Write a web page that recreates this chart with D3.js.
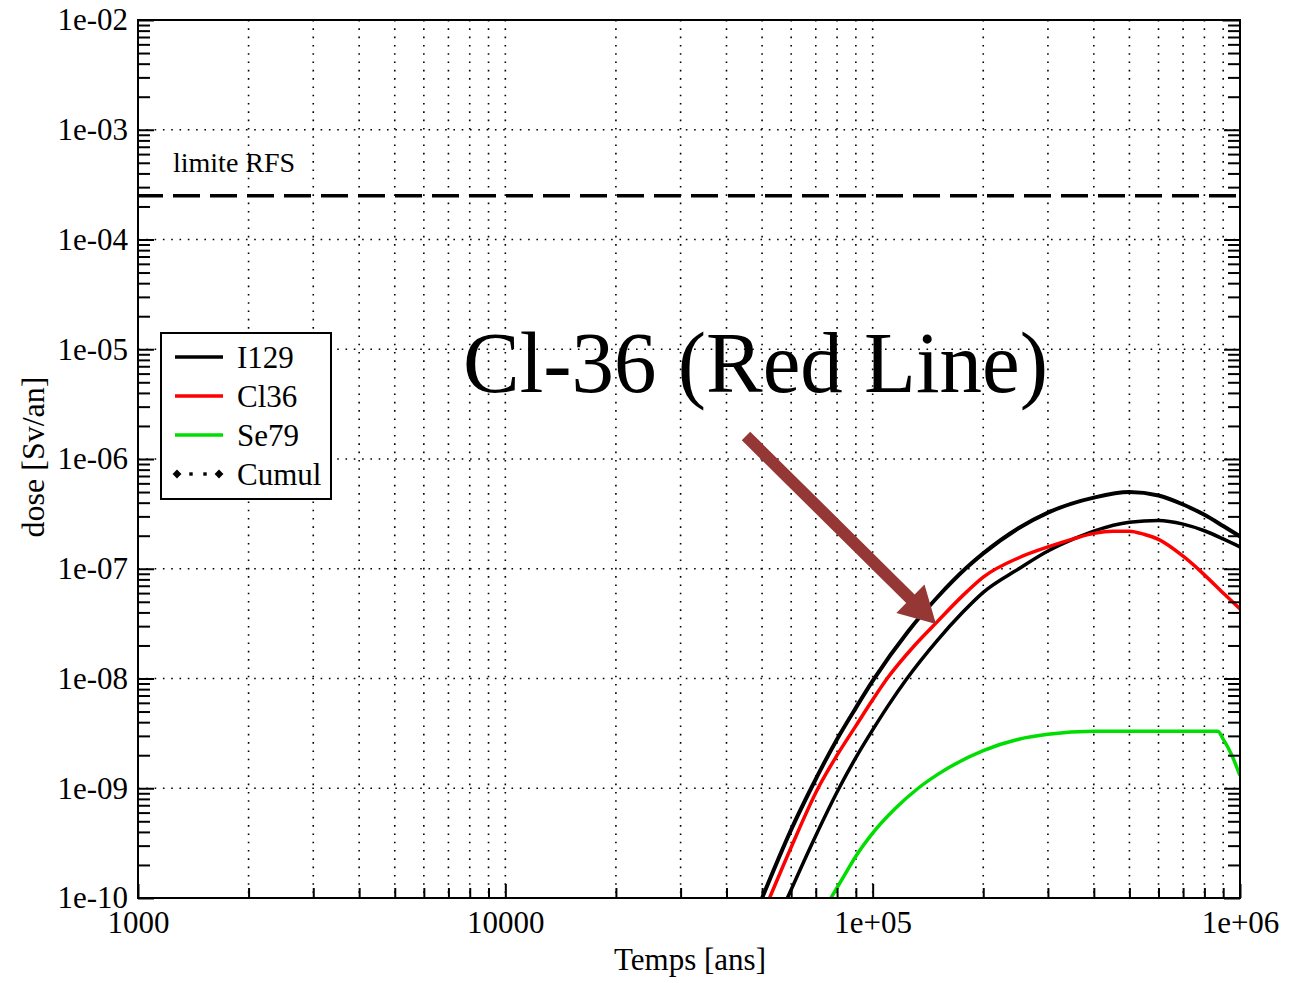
<!DOCTYPE html>
<html>
<head>
<meta charset="utf-8">
<script src="https://d3js.org/d3.v7.min.js"></script>
<style>
  html, body { margin: 0; padding: 0; background: #fff; }
  svg { display: block; font-family: "Liberation Serif", "Times New Roman", serif; }
</style>
</head>
<body>
<div id="chart"></div>
<script>
// ---- data ----
const xTickValues = [1e3, 1e4, 1e5, 1e6];
const xTickLabels = ["1000", "10000", "1e+05", "1e+06"];
const yTickValues = [1e-10, 1e-9, 1e-8, 1e-7, 1e-6, 1e-5, 1e-4, 1e-3, 1e-2];
const yTickLabels = ["1e-10", "1e-09", "1e-08", "1e-07", "1e-06", "1e-05", "1e-04", "1e-03", "1e-02"];

const i129Years = [5.86e4, 7e4, 8.1e4, 9e4, 1e5, 1.1e5, 1.24e5, 1.5e5, 1.75e5, 2e5, 2.5e5, 3e5, 3.5e5, 4e5, 5e5, 6e5, 7e5, 8e5, 9e5, 1e6];
const i129Dose  = [1e-10, 3.7e-10, 1e-9, 1.9e-9, 3.4e-9, 5.6e-9, 1e-8, 2.23e-8, 3.95e-8, 6.1e-8, 1e-7, 1.45e-7, 1.85e-7, 2.2e-7, 2.65e-7, 2.75e-7, 2.55e-7, 2.22e-7, 1.87e-7, 1.58e-7];

const cl36Years = [5.24e4, 6e4, 7.1e4, 8e4, 9e4, 1e5, 1.1e5, 1.3e5, 1.5e5, 1.75e5, 2e5, 2.5e5, 3e5, 3.5e5, 4e5, 4.5e5, 5e5, 5.5e5, 6e5, 7e5, 8e5, 9e5, 1e6];
const cl36Dose  = [1e-10, 2.9e-10, 1e-9, 2e-9, 3.7e-9, 6.4e-9, 1.02e-8, 2e-8, 3.3e-8, 5.6e-8, 8.4e-8, 1.26e-7, 1.58e-7, 1.86e-7, 2.1e-7, 2.2e-7, 2.2e-7, 2.05e-7, 1.85e-7, 1.3e-7, 8.8e-8, 6e-8, 4.3e-8];

const se79Years = [7.7e4, 8.5e4, 9e4, 1e5, 1.15e5, 1.33e5, 1.5e5, 2e5, 2.5e5, 3e5, 4e5, 8.7e5, 9e5, 9.5e5, 1e6];
const se79Dose  = [1e-10, 1.75e-10, 2.4e-10, 3.9e-10, 6.5e-10, 1e-9, 1.33e-9, 2.2e-9, 2.8e-9, 3.1e-9, 3.3e-9, 3.3e-9, 2.8e-9, 2e-9, 1.3e-9];

const cumulYears = [5e4, 6e4, 6.8e4, 8e4, 9e4, 1e5, 1.25e5, 1.5e5, 1.8e5, 2e5, 2.5e5, 3e5, 4e5, 5e5, 6e5, 7e5, 8e5, 9e5, 1e6];
const cumulDose  = [1e-10, 4.2e-10, 1e-9, 2.8e-9, 5.4e-9, 9.5e-9, 2.7e-8, 5.5e-8, 1.02e-7, 1.38e-7, 2.35e-7, 3.25e-7, 4.45e-7, 5e-7, 4.65e-7, 3.85e-7, 3.1e-7, 2.45e-7, 1.97e-7];

const rfsLimit = 2.5e-4;

const seriesNames  = ["I129", "Cl36", "Se79", "Cumul"];
const seriesColors = ["#000000", "#ff0000", "#00dd00", "#000000"];

// ---- layout ----
const W = 1304, H = 983;
const LEFT = 138, RIGHT = 1240, TOP = 20, BOTTOM = 898;

const svg = d3.select("#chart").append("svg")
  .attr("width", W).attr("height", H);

const x = d3.scaleLog().domain([1e3, 1e6]).range([LEFT, RIGHT]);
const y = d3.scaleLog().domain([1e-10, 1e-2]).range([BOTTOM, TOP]);

const isMajor = v => Math.abs(Math.log10(v) - Math.round(Math.log10(v))) < 1e-6;
const xAll = x.ticks();
const yAll = y.ticks();
const xMinor = xAll.filter(v => !isMajor(v));
const yMinor = yAll.filter(v => !isMajor(v));

svg.append("defs").append("clipPath").attr("id", "plot-clip")
  .append("rect").attr("x", LEFT).attr("y", TOP)
  .attr("width", RIGHT - LEFT).attr("height", BOTTOM - TOP);

// grid (dotted)
const $grid = svg.append("g").attr("class", "grid")
  .attr("stroke", "#000").attr("stroke-width", 1.6).attr("stroke-dasharray", "1.6,6.7");
$grid.selectAll(".gx").data(xAll.filter(v => v > 1e3 && v < 1e6)).join("line")
  .attr("x1", d => x(d)).attr("x2", d => x(d)).attr("y1", TOP).attr("y2", BOTTOM);
$grid.selectAll(".gy").data(yTickValues.filter(v => v > 1e-10 && v < 1e-2)).join("line")
  .attr("x1", LEFT).attr("x2", RIGHT).attr("y1", d => y(d)).attr("y2", d => y(d));

// RFS limit
svg.append("line")
  .attr("x1", LEFT).attr("x2", RIGHT)
  .attr("y1", y(rfsLimit)).attr("y2", y(rfsLimit))
  .attr("stroke", "#000").attr("stroke-width", 3.5)
  .attr("stroke-dasharray", "27,10").attr("stroke-dashoffset", 2);
svg.append("text").attr("x", 173).attr("y", 172)
  .attr("font-size", 28).text("limite RFS");

// curves
const line = d3.line().x(d => x(d[0])).y(d => y(d[1])).curve(d3.curveMonotoneX);
const seriesData = [
  d3.zip(i129Years, i129Dose),
  d3.zip(cl36Years, cl36Dose),
  d3.zip(se79Years, se79Dose),
  d3.zip(cumulYears, cumulDose)
];
const $vis = svg.append("g").attr("clip-path", "url(#plot-clip)");
$vis.selectAll("path").data(seriesData).join("path")
  .attr("d", line)
  .attr("fill", "none")
  .attr("stroke", (d, i) => seriesColors[i])
  .attr("stroke-width", (d, i) => i === 3 ? 4 : 3.5)
  .attr("stroke-linejoin", "round");

// ticks (inward)
function ticks(axis, vals, size, tx, ty) {
  const g = svg.append("g").attr("transform", `translate(${tx},${ty})`)
    .call(axis.tickValues(vals).tickSize(size).tickFormat(""));
  g.select(".domain").remove();
  g.selectAll("line").attr("stroke", "#000").attr("stroke-width", 2);
}
ticks(d3.axisRight(y), yMinor, 12, LEFT, 0);
ticks(d3.axisRight(y), yTickValues, 16, LEFT, 0);
ticks(d3.axisLeft(y), yMinor, 12, RIGHT, 0);
ticks(d3.axisLeft(y), yTickValues, 16, RIGHT, 0);
ticks(d3.axisTop(x), xMinor, 10, 0, BOTTOM);
ticks(d3.axisTop(x), xTickValues, 14, 0, BOTTOM);

// frame
svg.append("rect").attr("x", LEFT).attr("y", TOP)
  .attr("width", RIGHT - LEFT).attr("height", BOTTOM - TOP)
  .attr("fill", "none").attr("stroke", "#000").attr("stroke-width", 2);

// tick labels
const $yAxis = svg.append("g").attr("transform", `translate(${LEFT},0)`)
  .call(d3.axisLeft(y).tickValues(yTickValues).tickSize(0).tickPadding(10)
    .tickFormat((d, i) => yTickLabels[i]));
$yAxis.attr("font-family", null).attr("font-size", 31);
$yAxis.select(".domain").remove();
$yAxis.selectAll("text").attr("fill", "#000");

const $xAxis = svg.append("g").attr("transform", `translate(0,${BOTTOM})`)
  .call(d3.axisBottom(x).tickValues(xTickValues).tickSize(0).tickPadding(13)
    .tickFormat((d, i) => xTickLabels[i]));
$xAxis.attr("font-family", null).attr("font-size", 31);
$xAxis.select(".domain").remove();
$xAxis.selectAll("text").attr("fill", "#000");

// axis titles
svg.append("text").attr("x", (LEFT + RIGHT) / 2 + 1).attr("y", 970)
  .attr("text-anchor", "middle").attr("font-size", 31).text("Temps [ans]");
svg.append("text").attr("transform", "translate(44,457) rotate(-90)")
  .attr("text-anchor", "middle").attr("font-size", 32).text("dose [Sv/an]");

// legend
const $legend = svg.append("g").attr("class", "legend");
$legend.append("rect").attr("x", 161).attr("y", 333).attr("width", 170).attr("height", 166)
  .attr("fill", "#fff").attr("stroke", "#000").attr("stroke-width", 2);
const legendY = [357, 396, 435, 474];
seriesNames.forEach((name, i) => {
  const ly = legendY[i];
  if (i < 3) {
    $legend.append("line").attr("x1", 175).attr("x2", 223).attr("y1", ly).attr("y2", ly)
      .attr("stroke", seriesColors[i]).attr("stroke-width", 3.6);
  } else {
    [177, 219].forEach(cx => $legend.append("path")
      .attr("transform", `translate(${cx},${ly})`)
      .attr("d", d3.symbol().type(d3.symbolDiamond2).size(50)).attr("fill", "#000"));
    [191, 205].forEach(cx => $legend.append("rect")
      .attr("x", cx - 1.7).attr("y", ly - 1.7).attr("width", 3.4).attr("height", 3.4).attr("fill", "#000"));
  }
  $legend.append("text").attr("x", 237).attr("y", ly + 11)
    .attr("font-size", 31).text(name);
});

// annotation
svg.append("text").attr("x", 463).attr("y", 392)
  .attr("font-size", 86).attr("textLength", 585).attr("lengthAdjust", "spacingAndGlyphs")
  .text("Cl-36 (Red Line)");

// arrow
const tail = [746, 436], tip = [936, 624];
const ang = Math.atan2(tip[1] - tail[1], tip[0] - tail[0]);
const len = Math.hypot(tip[0] - tail[0], tip[1] - tail[1]);
const shaftW = 12, headW = 40, headL = 36;
const arrowPts = [
  [0, -shaftW / 2], [len - headL, -shaftW / 2], [len - headL, -headW / 2], [len, 0],
  [len - headL, headW / 2], [len - headL, shaftW / 2], [0, shaftW / 2]
];
svg.append("polygon")
  .attr("transform", `translate(${tail[0]},${tail[1]}) rotate(${ang * 180 / Math.PI})`)
  .attr("points", arrowPts.map(p => p.join(",")).join(" "))
  .attr("fill", "#953735");
</script>
</body>
</html>
